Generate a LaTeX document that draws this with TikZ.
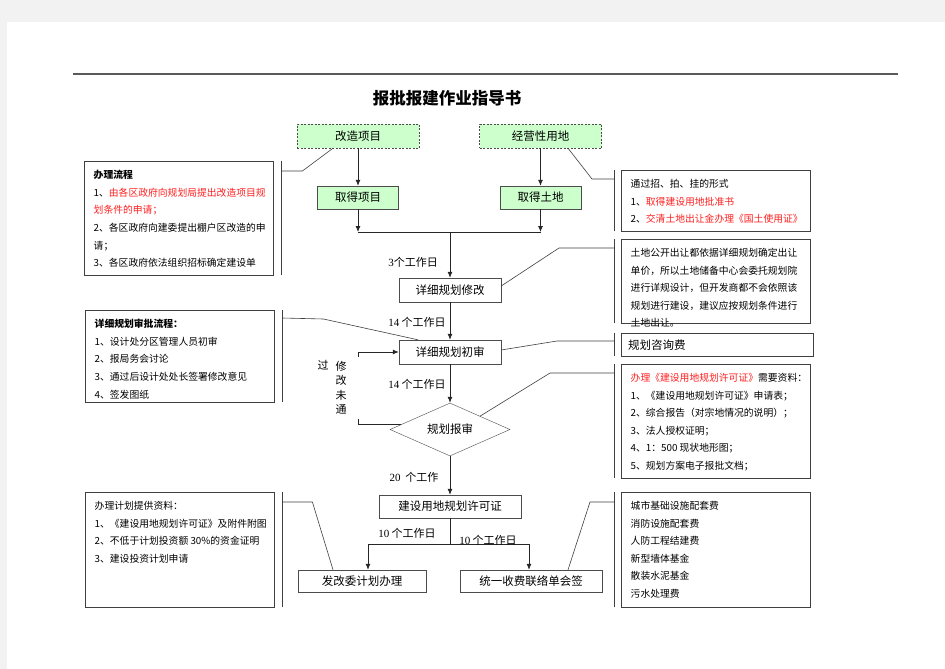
\documentclass[tikz,border=0pt]{standalone}
\usepackage{fontspec}
\setmainfont{Noto Sans CJK SC}
\newfontfamily\tms{Liberation Serif}
\usetikzlibrary{shapes.geometric,arrows.meta}
\definecolor{lightgreen}{HTML}{CCFFCC}
\definecolor{notered}{HTML}{FF2020}
\newcommand\notetext[2]{\parbox[c][#1][t]{170pt}{#2}}

\begin{document}
\begin{tikzpicture}[x=1pt, y=-1pt,
  start/.style = {draw=black!70, dash pattern=on 2pt off 1.5pt, fill=lightgreen, minimum width=122, minimum height=24, inner sep=0, font=\fontsize{11.5}{14}\selectfont},
  main/.style = {draw=black!70, fill=lightgreen, minimum width=81, minimum height=23, inner sep=0, font=\fontsize{11.5}{14}\selectfont},
  plain/.style = {draw=black!70, fill=white, minimum height=24, inner sep=0, font=\fontsize{11.5}{14}\selectfont},
  check/.style = {shape=diamond, draw=black!70, fill=white, aspect=2.26, minimum width=120, minimum height=53, inner sep=0, font=\fontsize{11.5}{14}\selectfont},
  note/.style = {draw=black!75, fill=white, anchor=north west, inner xsep=9.5, inner ysep=9, font=\fontsize{9.8}{17.6}\selectfont},
  lbl/.style = {inner sep=0, font=\fontsize{11}{14}\selectfont},
  arr/.style = {draw=black!85, line width=0.8pt, -{Latex[length=6pt,width=5pt]}},
  lead/.style = {draw=black!75, line width=0.6pt}]
	\path[use as bounding box, fill=black!5] (0,0) rectangle (945,669);
	\fill[white] (7,22) rectangle (945,669);
	\draw[black!65, line width=1.2pt] (73,74) -- (898,74);
	\node[font=\fontsize{16.5}{20}\selectfont\bfseries] (title) at (447,98) {报批报建作业指导书};

	\node[start] (gzxm) at (358,136) {改造项目};
	\node[start] (jyyd) at (540.5,136) {经营性用地};
	\node[main] (qdxm) at (358,197.5) {取得项目};
	\node[main] (qdtd) at (540.5,197.5) {取得土地};
	\node[plain, minimum width=102] (xgxg) at (450,290) {详细规划修改};
	\node[plain, minimum width=102] (xgcs) at (450,352) {详细规划初审};
	\node[check] (ghbs) at (450,429.5) {规划报审};
	\node[plain, minimum width=142, minimum height=23] (xkz) at (450,506.5) {建设用地规划许可证};
	\node[plain, minimum width=128, minimum height=22] (fgw) at (362,581) {发改委计划办理};
	\node[plain, minimum width=142, minimum height=22] (tysf) at (531,581) {统一收费联络单会签};

	\coordinate (join) at (450,232);
	\draw[arr] (gzxm) -- (qdxm);
	\draw[arr] (jyyd) -- (qdtd);
	\draw[arr] (qdxm) -- (qdxm |- join);
	\draw[arr] (qdtd) -- (qdtd |- join);
	\draw[arr, -] (qdxm |- join) -- (qdtd |- join);
	\draw[arr] (join) -- (xgxg);
	\draw[arr] (xgxg) -- (xgcs);
	\draw[arr] (xgcs) -- (ghbs);
	\draw[arr] (ghbs) -- (xkz);
	\draw[arr] (xkz.south) -- ++(0,26) -| ([xshift=6]fgw.north);
	\draw[arr] (xkz.south) -- ++(0,26) -| ([xshift=-2]tysf.north);
	\coordinate (loop) at (358,425);
	\draw[arr] (ghbs.174) -- (ghbs.174 -| loop) |- (xgcs.west);

	\node[lbl] (d3) at (413,262) {{\tms 3}个工作日};
	\node[lbl] (d14a) at (417,322) {{\tms 14} 个工作日};
	\node[lbl] (d14b) at (417,384) {{\tms 14} 个工作日};
	\node[lbl] (d20) at (414,477) {{\tms 20}\ \ 个工作};
	\node[lbl] (d10a) at (407,533) {{\tms 10} 个工作日};
	\node[lbl] (d10b) at (488,540) {{\tms 10} 个工作日};
	\node[fill=white, inner sep=0, minimum width=42, minimum height=62, align=center, font=\fontsize{11}{14.5}\selectfont] (wgx) at (341,388) {修\\改\\未\\通};
	\node[lbl] (wgg) at (323,365) {过};

	% left notes
	\node[note] (lc1) at (84,161) {\notetext{96pt}{\textbf{办理流程}\\ 1、\textcolor{notered}{由各区政府向规划局提出改造项目规}\\ \textcolor{notered}{划条件的申请；}\\ 2、各区政府向建委提出棚户区改造的申\\ 请；\\ 3、各区政府依法组织招标确定建设单}};
	\node[note] (lc2) at (85,310) {\notetext{74pt}{\textbf{详细规划审批流程：}\\ 1、设计处分区管理人员初审\\ 2、报局务会讨论\\ 3、通过后设计处处长签署修改意见\\ 4、签发图纸}};
	\node[note] (lc3) at (85,492) {\notetext{97pt}{办理计划提供资料：\\ 1、《建设用地规划许可证》及附件附图\\ 2、不低于计划投资额 30\%的资金证明\\ 3、建设投资计划申请}};
	\draw[lead] ([xshift=8]lc1.north east) -- ([xshift=8]lc1.south east);
	\draw[lead] ([shift={(8,10)}]lc1.north east) -- ++(21,0) -- ([xshift=-25]gzxm.south);
	\draw[lead] ([xshift=8]lc2.north east) -- ([xshift=8]lc2.south east);
	\draw[lead] ([shift={(8,8)}]lc2.north east) -- ++(41,1) -- ([xshift=-32]xgcs.north);
	\draw[lead] ([xshift=8]lc3.north east) -- ([xshift=8]lc3.south east);
	\draw[lead] ([shift={(8,10)}]lc3.north east) -- ++(30,0) -- ([xshift=-29]fgw.north);

	% right notes
	\node[note] (rc1) at (621,170) {\notetext{43pt}{通过招、拍、挂的形式\\ 1、\textcolor{notered}{取得建设用地批准书}\\ 2、\textcolor{notered}{交清土地出让金办理《国土使用证》}}};
	\node[note] (rc2) at (621,239) {\notetext{66pt}{土地公开出让都依据详细规划确定出让\\ 单价，所以土地储备中心会委托规划院\\ 进行详规设计，但开发商都不会依照该\\ 规划进行建设，建议应按规划条件进行\\ 土地出让。}};
	\node[note, text width=178, inner xsep=7, inner ysep=0, minimum height=23, font=\fontsize{11.5}{14}\selectfont] (rc3) at (621,333) {规划咨询费};
	\node[note] (rc4) at (621,364) {\notetext{96pt}{\textcolor{notered}{办理《建设用地规划许可证》}需要资料：\\ 1、《建设用地规划许可证》申请表；\\ 2、综合报告（对宗地情况的说明）；\\ 3、法人授权证明；\\ 4、1：500 现状地形图；\\ 5、规划方案电子报批文档；}};
	\node[note] (rc5) at (621,492) {\notetext{97pt}{城市基础设施配套费\\ 消防设施配套费\\ 人防工程结建费\\ 新型墙体基金\\ 散装水泥基金\\ 污水处理费}};
	\draw[lead] ([xshift=-7]rc1.north west) -- ([xshift=-7]rc1.south west);
	\draw[lead] ([shift={(-7,9)}]rc1.north west) -- ++(-22,0) -- ([xshift=27.5]jyyd.south);
	\draw[lead] ([xshift=-7]rc2.north west) -- ([xshift=-7]rc2.south west);
	\draw[lead] ([shift={(-7,9)}]rc2.north west) -- ++(-55,0) -- ([yshift=4]xgxg.east);
	\draw[lead] ([xshift=-7]rc3.north west) -- ([xshift=-7]rc3.south west);
	\draw[lead] ([shift={(-7,8)}]rc3.north west) -- ++(-57,0) -- ([yshift=2]xgcs.east);
	\draw[lead] ([xshift=-7]rc4.north west) -- ([xshift=-7]rc4.south west);
	\draw[lead] ([shift={(-7,9)}]rc4.north west) -- ++(-64,0) -- (ghbs.north east);
	\draw[lead] ([xshift=-7]rc5.north west) -- ([xshift=-7]rc5.south west);
	\draw[lead] ([shift={(-7,10)}]rc5.north west) -- ++(-24,0) -- ([xshift=37]tysf.north);
\end{tikzpicture}
\end{document}
